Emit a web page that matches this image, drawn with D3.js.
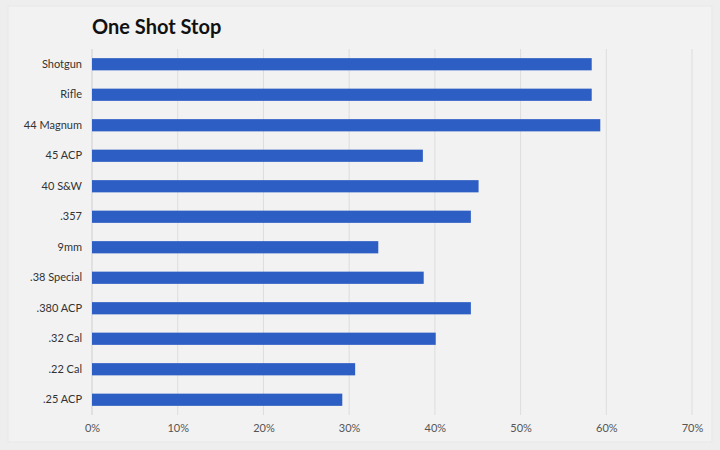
<!DOCTYPE html>
<html>
<head>
<meta charset="utf-8">
<script src="https://cdn.jsdelivr.net/npm/d3@7"></script>
<style>
  body { margin: 0; background: #eeeeee; }
  svg { display: block; }
</style>
</head>
<body>
<div id="chart"></div>
<script>
// data
const calibers = ["Shotgun", "Rifle", "44 Magnum", "45 ACP", "40 S&W", ".357", "9mm",
    ".38 Special", ".380 ACP", ".32 Cal", ".22 Cal", ".25 ACP"];
const stopRates = [58.3, 58.3, 59.3, 38.6, 45.1, 44.2, 33.4, 38.7, 44.2, 40.1, 30.7, 29.2];
const xTicks = [0, 10, 20, 30, 40, 50, 60, 70];

const width = 720, height = 450;
const margin = {top: 49, right: 28, bottom: 35, left: 92};
const innerW = width - margin.left - margin.right;
const innerH = height - margin.top - margin.bottom;

const rows = calibers.map((c, i) => ({name: c, value: stopRates[i]}));

const svg = d3.select("#chart").append("svg")
    .attr("width", width)
    .attr("height", height);

// card panel
svg.append("rect")
    .attr("x", 8).attr("y", 6)
    .attr("width", width - 16).attr("height", height - 14)
    .attr("fill", "#f2f2f2")
    .attr("stroke", "#e7e7e7");

svg.append("text")
    .attr("x", margin.left)
    .attr("y", 34)
    .attr("font-family", "Lato, 'Open Sans', sans-serif")
    .attr("font-weight", 700)
    .attr("font-size", 20)
    .attr("fill", "#111")
    .text("One Shot Stop");

const g = svg.append("g")
    .attr("transform", "translate(" + margin.left + "," + margin.top + ")");

const x = d3.scaleLinear().domain([0, 70]).range([0, 600]);
const y = d3.scaleBand().domain(calibers).range([0, innerH]).paddingInner(0.6).paddingOuter(0.3);

// gridlines
g.selectAll(".grid")
    .data(xTicks.slice(1))
    .enter().append("line")
    .attr("class", "grid")
    .attr("x1", d => x(d)).attr("x2", d => x(d))
    .attr("y1", 0).attr("y2", innerH)
    .attr("stroke", "#dddddd")
    .attr("stroke-width", 1);

g.append("line")
    .attr("x1", 0).attr("x2", 0)
    .attr("y1", 0).attr("y2", innerH)
    .attr("stroke", "#cfcfcf");

// bars
g.selectAll(".bar")
    .data(rows)
    .enter().append("rect")
    .attr("class", "bar")
    .attr("x", 0)
    .attr("y", d => y(d.name))
    .attr("width", d => x(d.value))
    .attr("height", y.bandwidth())
    .attr("fill", "#2d5ec4");

// axes
const xAxis = d3.axisBottom(x)
    .tickValues(xTicks)
    .tickFormat(d => d + "%")
    .tickSize(0)
    .tickPadding(9);

const xAxisGroup = g.append("g")
    .attr("transform", "translate(0," + innerH + ")")
    .call(xAxis);
xAxisGroup.select(".domain").remove();
xAxisGroup.selectAll("text")
    .attr("font-family", "Lato, 'Open Sans', sans-serif")
    .attr("font-size", 11)
    .attr("fill", "#555");

const yAxis = d3.axisLeft(y).tickSize(0).tickPadding(10);
const yAxisGroup = g.append("g").call(yAxis);
yAxisGroup.select(".domain").remove();
yAxisGroup.selectAll("text")
    .attr("font-family", "Lato, 'Open Sans', sans-serif")
    .attr("font-size", 11)
    .attr("fill", "#333");
</script>
</body>
</html>
